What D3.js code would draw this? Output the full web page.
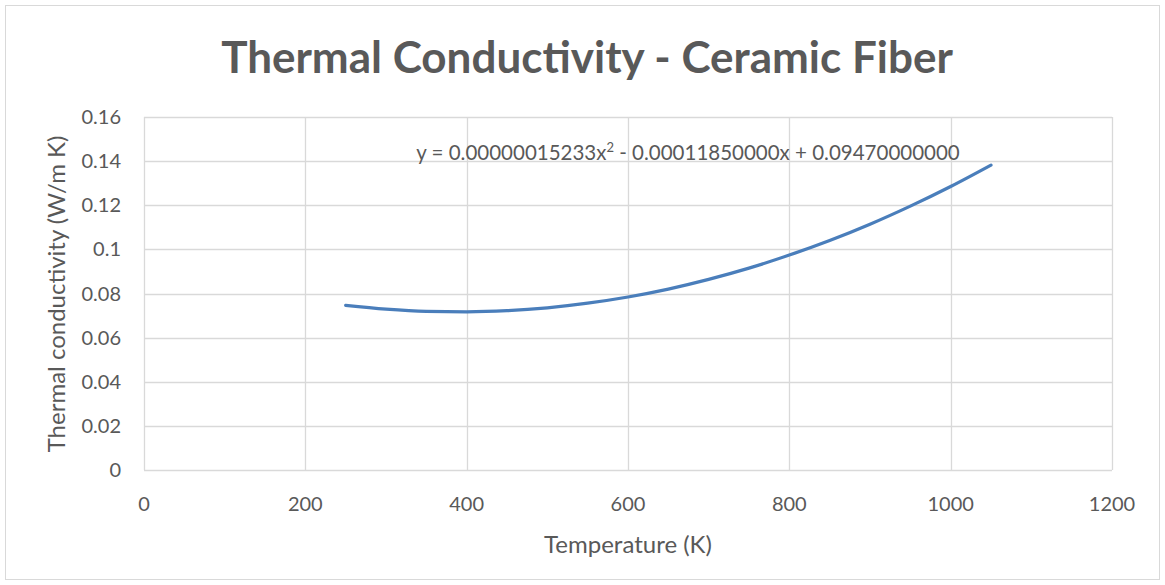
<!DOCTYPE html>
<html>
<head>
<meta charset="utf-8">
<script src="https://cdn.jsdelivr.net/npm/d3@7"></script>
<style>
  body { margin: 0; background: #fff; }
  text { font-family: Lato, "Open Sans", sans-serif; fill: #595959; }
</style>
</head>
<body>
<div class="chart-area"></div>
<script>
// temperatures (K) and conductivity (W/m K)
var temps = [250, 300, 350, 400, 450, 500, 550, 600, 650, 700, 750, 800, 850, 900, 950, 1000, 1050];
var conductivity = [0.0746, 0.0729, 0.0719, 0.0717, 0.0722, 0.0735, 0.0756, 0.0784, 0.0820,
                    0.0864, 0.0915, 0.0974, 0.1040, 0.1114, 0.1196, 0.1285, 0.1382];
var xTicks = [0, 200, 400, 600, 800, 1000, 1200];
var yTicks = [0, 0.02, 0.04, 0.06, 0.08, 0.1, 0.12, 0.14, 0.16];
var equationHead = "y = 0.00000015233x", equationEnd = " - 0.00011850000x + 0.09470000000";

var width = 1165,
    height = 585,
    plotLeft = 144,
    plotRight = 1112,
    plotTop = 117,
    plotBottom = 470;

var svg = d3.select(".chart-area")
            .append("svg")
            .attr("width", width)
            .attr("height", height);

svg.append("rect")
   .attr("x", 5.5).attr("y", 5.5)
   .attr("width", 1154).attr("height", 574)
   .attr("fill", "#fff")
   .attr("stroke", "#d9d9d9");

var x = d3.scaleLinear().domain([0, 1200]).range([plotLeft, plotRight]),
    y = d3.scaleLinear().domain([0, 0.16]).range([plotBottom, plotTop]);

// gridlines
svg.selectAll(".hgrid")
   .data(yTicks)
   .enter()
   .append("line")
   .attr("x1", plotLeft).attr("x2", plotRight)
   .attr("y1", function(d) { return Math.round(y(d)) + 0.5 })
   .attr("y2", function(d) { return Math.round(y(d)) + 0.5 })
   .attr("stroke", "#d9d9d9")
   .attr("stroke-width", 1.3);

svg.selectAll(".vgrid")
   .data(xTicks)
   .enter()
   .append("line")
   .attr("y1", plotTop).attr("y2", plotBottom)
   .attr("x1", function(d) { return Math.round(x(d)) + 0.5 })
   .attr("x2", function(d) { return Math.round(x(d)) + 0.5 })
   .attr("stroke", "#d9d9d9")
   .attr("stroke-width", 1.3);

// tick labels
svg.selectAll(".ylab")
   .data(yTicks)
   .enter()
   .append("text")
   .attr("x", 121)
   .attr("y", function(d) { return y(d) })
   .attr("dy", "0.35em")
   .attr("text-anchor", "end")
   .style("font-size", "20px")
   .text(function(d) { return d });

svg.selectAll(".xlab")
   .data(xTicks)
   .enter()
   .append("text")
   .attr("x", function(d) { return x(d) })
   .attr("y", 511)
   .attr("text-anchor", "middle")
   .style("font-size", "20px")
   .text(function(d) { return d });

// curve
var line = d3.line()
             .x(function(d, i) { return x(temps[i]) })
             .y(function(d) { return y(d) })
             .curve(d3.curveMonotoneX);

svg.append("path")
   .datum(conductivity)
   .attr("d", line)
   .attr("fill", "none")
   .attr("stroke", "#4a7ebb")
   .attr("stroke-width", 3.2)
   .attr("stroke-linecap", "round");

// trendline equation
var eq = svg.append("text")
            .attr("x", 688)
            .attr("y", 160)
            .attr("text-anchor", "middle")
            .style("font-size", "20.5px");
eq.append("tspan").text(equationHead);
eq.append("tspan").attr("dy", -8).style("font-size", "13px").text("2");
eq.append("tspan").attr("dy", 8).text(equationEnd);

// titles
svg.append("text")
   .attr("x", 587)
   .attr("y", 73)
   .attr("text-anchor", "middle")
   .style("font-size", "44px")
   .style("font-weight", "bold")
   .text("Thermal Conductivity - Ceramic Fiber");

svg.append("text")
   .attr("x", 628)
   .attr("y", 553)
   .attr("text-anchor", "middle")
   .style("font-size", "24px")
   .text("Temperature (K)");

svg.append("text")
   .attr("transform", "translate(65,294) rotate(-90)")
   .attr("text-anchor", "middle")
   .style("font-size", "24px")
   .text("Thermal conductivity (W/m K)");
</script>
</body>
</html>
